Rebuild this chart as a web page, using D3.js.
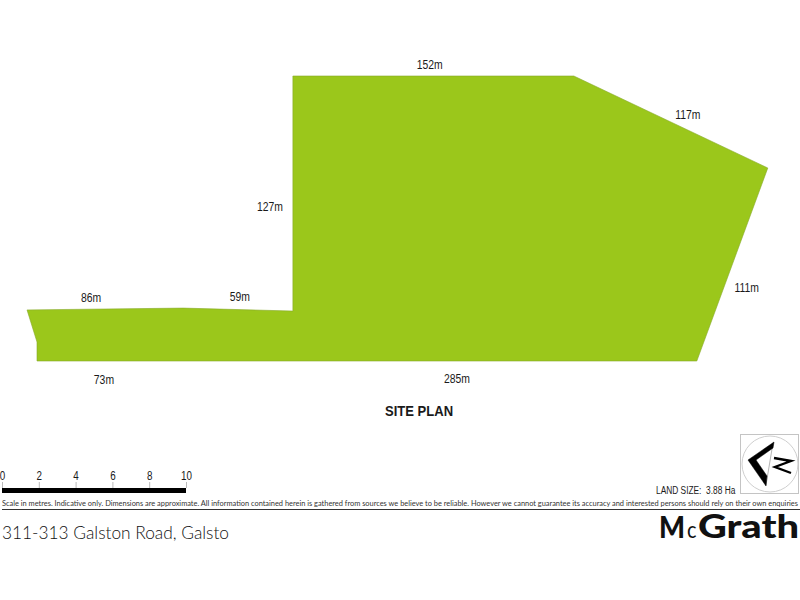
<!DOCTYPE html>
<html>
<head>
<meta charset="utf-8">
<script src="https://cdn.jsdelivr.net/npm/d3@7"></script>
<style>
  html, body { margin: 0; padding: 0; background: #fff; }
  svg { display: block; }
  text { font-family: "Liberation Sans", Arial, sans-serif; fill: #1a1a1a; }
</style>
</head>
<body>
<svg id="plan" width="800" height="600"></svg>
<script>
// site boundary in metres, measured from the south west corner
const boundaryX = [-5.4, 79.2, 138.8, 138.8, 291.2, 396.4, 357.9, 0, 0];
const boundaryY = [27.7, 28.7, 27.1, 154.6, 154.6, 104.7, 0, 0, 10.3];

const edgeLabels = ['152m', '117m', '127m', '86m', '59m', '111m', '73m', '285m'];
const edgeLabelX = [213, 353, 126.4, 29.3, 110, 385, 36.3, 227.8];
const edgeLabelY = [158.4, 131.3, 81.4, 32, 32.6, 37.4, -12.5, -12];

const scaleTicks = [0, 2, 4, 6, 8, 10];

const width = 800, height = 600;
const green = '#9bc71b';

const svg = d3.select('#plan');
const x = d3.scaleLinear().domain([0, 358]).range([37, 697]);
const y = d3.scaleLinear().domain([0, 154.6]).range([361, 76]);

const outline = d3.line().x(d => x(d[0])).y(d => y(d[1])).curve(d3.curveLinearClosed);

svg.append('path')
  .datum(d3.zip(boundaryX, boundaryY))
  .attr('d', outline)
  .attr('fill', green)
  .attr('stroke', '#86a92a')
  .attr('stroke-width', 0.6);

// narrow text, the plan uses a condensed arial
function narrow(sel, px, py, ratio) {
  sel.attr('transform', `translate(${px},${py}) scale(${ratio},1)`);
}

svg.selectAll('.edge')
  .data(edgeLabels)
  .join('text')
  .attr('class', 'edge')
  .attr('text-anchor', 'middle')
  .attr('font-size', 13)
  .each(function (d, i) {
    d3.select(this).text(d).call(narrow, x(edgeLabelX[i]), y(edgeLabelY[i]), 0.8);
  });

svg.append('text')
  .text('SITE PLAN')
  .attr('text-anchor', 'middle')
  .attr('font-size', 15)
  .attr('font-weight', 700)
  .call(narrow, 419, 416, 0.87);

// scale bar
const barScale = d3.scaleLinear().domain([0, 10]).range([2, 186]);
const barAxis = d3.axisTop(barScale).tickValues(scaleTicks).tickSize(6).tickFormat(d3.format('d'));
const bar = svg.append('g').attr('transform', 'translate(0,488)').call(barAxis);
bar.select('.domain').remove();
bar.selectAll('.tick line').attr('stroke', '#bbb').attr('y2', -6);
bar.selectAll('.tick text')
  .attr('font-size', 12)
  .attr('dy', 0)
  .attr('y', -8)
  .attr('transform', 'scale(0.82,1)')
  .attr('fill', '#1a1a1a')
  .attr('font-family', '"Liberation Sans", Arial, sans-serif');
svg.append('rect')
  .attr('x', barScale(0))
  .attr('y', 488)
  .attr('width', barScale(10) - barScale(0))
  .attr('height', 5)
  .attr('fill', '#000');

svg.append('text')
  .text('LAND SIZE:  3.88 Ha')
  .attr('xml:space', 'preserve')
  .attr('font-size', 11)
  .call(narrow, 656, 494, 0.76);

// north point
const compass = svg.append('g');
compass.append('rect')
  .attr('x', 740.5).attr('y', 434.5).attr('width', 58).attr('height', 59)
  .attr('fill', '#fff').attr('stroke', '#c4c4c4');
compass.append('circle')
  .attr('cx', 770).attr('cy', 464).attr('r', 28)
  .attr('fill', 'none').attr('stroke', '#cfcfcf');
compass.append('line')
  .attr('x1', 773).attr('y1', 443).attr('x2', 766).attr('y2', 485)
  .attr('stroke', '#b5b5b5');
compass.append('path')
  .attr('d', 'M774,442 L748,460 L766,486 L767,476 L756,460 L773,448 Z')
  .attr('fill', '#000').attr('stroke', '#000').attr('stroke-width', 0.5);
compass.append('path')
  .attr('d', 'M774,458 L791,461 L775,467 L791,473')
  .attr('fill', 'none').attr('stroke', '#000').attr('stroke-width', 2.4);

// disclaimer strip
svg.append('text')
  .text('Scale in metres. Indicative only. Dimensions are approximate. All information contained herein is gathered from sources we believe to be reliable. However we cannot guarantee its accuracy and interested persons should rely on their own enquiries')
  .attr('x', 2)
  .attr('y', 506)
  .attr('textLength', 796)
  .attr('lengthAdjust', 'spacingAndGlyphs')
  .attr('font-size', 7.4)
  .style('font-family', 'Lato, sans-serif')
  .style('fill', '#333');
svg.append('line')
  .attr('x1', 2).attr('x2', width).attr('y1', 509.5).attr('y2', 509.5)
  .attr('stroke', '#333');

svg.append('text')
  .text('311-313 Galston Road, Galsto')
  .attr('x', 2)
  .attr('y', 539)
  .attr('textLength', 227)
  .attr('lengthAdjust', 'spacingAndGlyphs')
  .attr('font-size', 17)
  .style('font-family', 'Lato, sans-serif')
  .style('font-weight', 300)
  .style('fill', '#111');

// logo, each part fitted to its own width
const logoParts = ['M', 'c', 'Grath'];
const logoStart = [659, 687, 698];
const logoWidth = [26, 9.5, 101];
const logoSize = [31, 23, 32];
const logoWeight = [900, 400, 900];
svg.selectAll('.logo')
  .data(logoParts)
  .join('text')
  .attr('class', 'logo')
  .text(d => d)
  .attr('x', (d, i) => logoStart[i])
  .attr('y', 538)
  .attr('textLength', (d, i) => logoWidth[i])
  .attr('lengthAdjust', 'spacingAndGlyphs')
  .attr('font-size', (d, i) => logoSize[i])
  .style('font-weight', (d, i) => logoWeight[i])
  .style('font-family', 'Lato, sans-serif')
  .style('fill', '#111');
</script>
</body>
</html>
